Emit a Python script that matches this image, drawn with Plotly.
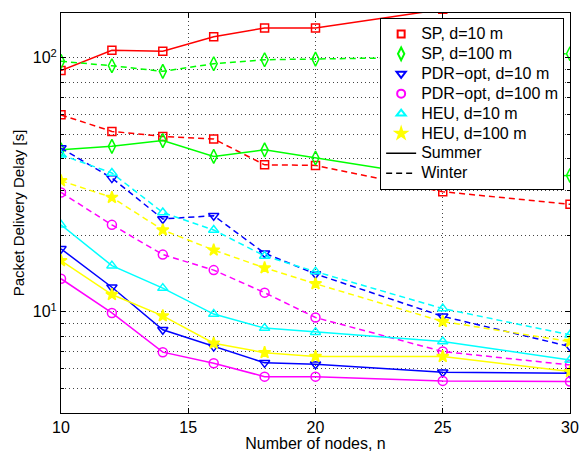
import plotly.graph_objects as go

n_nodes = [10, 12, 14, 16, 18, 20, 25, 30]

# Summer (solid)
sp10_summer = [89, 107, 106, 121, 131, 131, 155, 165]
sp100_summer = [43.4, 44.8, 47.2, 40.9, 43.4, 40.3, 33.6, 34.4]
pdr10_summer = [17.7, 12.5, 8.5, 7.3, 6.3, 6.22, 5.79, 5.73]
pdr100_summer = [13.5, 9.9, 6.94, 6.28, 5.56, 5.56, 5.35, 5.32]
heu10_summer = [22.0, 15.2, 12.4, 9.8, 8.63, 8.32, 7.64, 6.47]
heu100_summer = [15.9, 11.7, 9.64, 7.53, 6.91, 6.67, 6.67, 5.82]

# Winter (dashed)
sp10_winter = [59.6, 51.3, 49.0, 47.9, 37.9, 37.7, 29.7, 26.5]
sp100_winter = [96.8, 93.0, 88.4, 94.7, 98.2, 98.8, 100.5, 103.7]
pdr10_winter = [44.1, 33.6, 23.2, 23.9, 17.0, 14.1, 9.6, 7.3]
pdr100_winter = [29.5, 22.0, 16.8, 14.6, 11.9, 9.5, 6.98, 6.18]
heu10_winter = [41.5, 35.2, 24.6, 21.0, 16.6, 14.4, 10.3, 8.12]
heu100_winter = [32.8, 28.2, 21.0, 17.5, 14.9, 12.9, 9.16, 7.64]

series_names = ["SP, d=10 m", "SP, d=100 m", "PDR\u2212opt, d=10 m",
                "PDR\u2212opt, d=100 m", "HEU, d=10 m", "HEU, d=100 m"]
colors = ["#FF0000", "#00FF00", "#0000FF", "#FF00FF", "#00FFFF", "#FFFF00"]
symbols = ["square-open", "diamond-tall-open", "triangle-down-open",
           "circle-open", "triangle-up-open", "star"]
sizes = [8, 10, 9, 9, 9, 9]

summer = [sp10_summer, sp100_summer, pdr10_summer, pdr100_summer, heu10_summer, heu100_summer]
winter = [sp10_winter, sp100_winter, pdr10_winter, pdr100_winter, heu10_winter, heu100_winter]

font = "Liberation Sans, Arial, Helvetica, sans-serif"
fig = go.Figure()

for i in range(6):
    for data, dash in ((summer[i], "solid"), (winter[i], "6px,4px")):
        fig.add_trace(go.Scatter(
            x=n_nodes, y=data, mode="lines+markers", showlegend=False,
            line=dict(color=colors[i], width=1.5, dash=dash),
            marker=dict(symbol=symbols[i], size=sizes[i], color=colors[i],
                        line=dict(color=colors[i], width=1.5)),
        ))


def big(t):
    return '<span style="font-size:16px">' + t + '</span>'


# legend entries
for i in range(6):
    fig.add_trace(go.Scatter(
        x=[None], y=[None], mode="markers", name=big(series_names[i]),
        marker=dict(symbol=symbols[i], size=sizes[i] - 1, color=colors[i],
                    line=dict(color=colors[i], width=2)),
    ))
fig.add_trace(go.Scatter(x=[None], y=[None], mode="lines", name=big("Summer"),
                         line=dict(color="black", width=1.5)))
fig.add_trace(go.Scatter(x=[None], y=[None], mode="lines", name=big("Winter"),
                         line=dict(color="black", width=1.5, dash="6px,4px")))

grid_style = dict(showgrid=True, gridcolor="#444", gridwidth=1, griddash="1px,3px")

fig.update_layout(
    width=580, height=452,
    margin=dict(l=61, r=10, t=13, b=39, autoexpand=False),
    paper_bgcolor="white", plot_bgcolor="white",
    font=dict(family=font, size=16, color="black"),
    legend=dict(x=0.627, y=0.9875, xanchor="left", yanchor="top",
                bgcolor="white", bordercolor="black", borderwidth=1,
                font=dict(size=13), tracegroupgap=0, itemwidth=30),
    xaxis=dict(
        range=[10, 30], tickvals=[10, 15, 20, 25, 30],
        ticks="inside", ticklen=5, tickcolor="black",
        showline=True, linecolor="black", linewidth=1, mirror="ticks",
        zeroline=False, automargin=False,
        title=dict(text="Number of nodes, n", font=dict(size=16), standoff=1),
        **grid_style,
    ),
    yaxis=dict(
        type="log", range=[0.602, 2.176],
        tickvals=[10, 100], ticktext=["10<sup>1</sup>", "10<sup>2</sup>"],
        ticks="inside", ticklen=5, tickcolor="black",
        showline=True, linecolor="black", linewidth=1, mirror="ticks",
        zeroline=False, automargin=False,
        title=dict(text="Packet Delivery Delay [s]", font=dict(size=15), standoff=4),
        minor=dict(tickvals=[5, 6, 7, 8, 9, 20, 30, 40, 50, 60, 70, 80, 90],
                   ticks="inside", ticklen=3, tickcolor="black",
                   showgrid=True, gridcolor="#444", gridwidth=1, griddash="1px,3px"),
        **grid_style,
    ),
)

fig.write_html("out.html", config={"displayModeBar": False},
               post_script="document.body.style.margin='0px';document.body.style.overflow='hidden';")
